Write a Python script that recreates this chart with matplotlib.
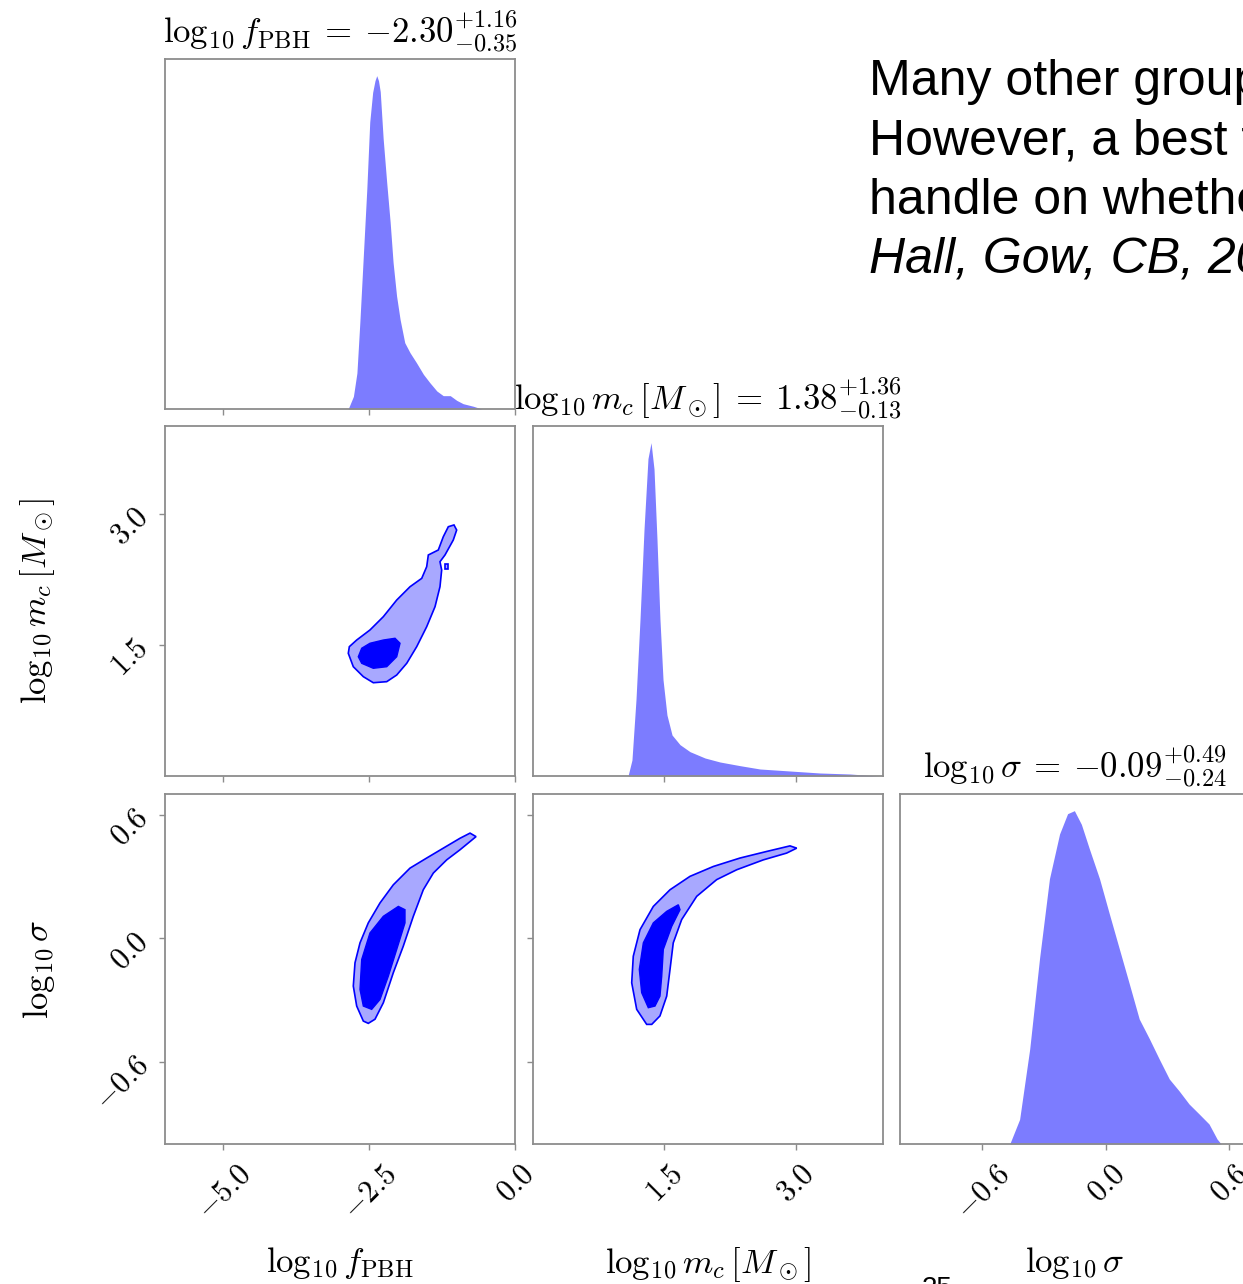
import matplotlib

matplotlib.use("Agg")

import matplotlib.pyplot as plt
from matplotlib.ticker import FixedFormatter, FixedLocator

plt.rcParams["mathtext.fontset"] = "cm"

# ---------------------------------------------------------------------------
# Marginal posteriors (bin position, height relative to the tallest bin)
# ---------------------------------------------------------------------------
fpbh_x = [-2.86, -2.77, -2.71, -2.66, -2.60, -2.54, -2.49, -2.44, -2.40, -2.37,
          -2.34, -2.31, -2.26, -2.20, -2.14, -2.09, -2.03, -1.97, -1.89, -1.80,
          -1.69, -1.57, -1.46, -1.34, -1.23, -1.11, -1.00, -0.89, -0.71, -0.57]
fpbh_h = [0.0, 0.038, 0.108, 0.259, 0.460, 0.661, 0.861, 0.950, 0.985, 1.0,
          0.985, 0.952, 0.811, 0.681, 0.560, 0.440, 0.339, 0.269, 0.199, 0.169,
          0.139, 0.104, 0.079, 0.054, 0.040, 0.040, 0.026, 0.016, 0.008, 0.0]

mc_x = [1.086, 1.131, 1.177, 1.223, 1.269, 1.314, 1.349, 1.383, 1.417, 1.451,
        1.486, 1.531, 1.589, 1.680, 1.794, 1.966, 2.137, 2.366, 2.594, 2.937,
        3.280, 3.623, 3.943]
mc_h = [0.0, 0.048, 0.229, 0.470, 0.741, 0.952, 1.0, 0.921, 0.710, 0.470,
        0.289, 0.183, 0.123, 0.094, 0.073, 0.054, 0.042, 0.031, 0.021, 0.015,
        0.009, 0.006, 0.0]

sig_x = [-0.467, -0.419, -0.370, -0.322, -0.274, -0.225, -0.186, -0.153, -0.119,
         -0.080, -0.031, 0.017, 0.065, 0.114, 0.162, 0.211, 0.259, 0.308, 0.356,
         0.404, 0.453, 0.501, 0.540, 0.560]
sig_h = [0.0, 0.074, 0.285, 0.558, 0.796, 0.930, 0.991, 1.0, 0.959, 0.885,
         0.796, 0.690, 0.586, 0.480, 0.375, 0.316, 0.255, 0.195, 0.159, 0.120,
         0.090, 0.060, 0.015, 0.0]

# ---------------------------------------------------------------------------
# 2-D credible regions: outer and inner outlines (x, y) in parameter units
# ---------------------------------------------------------------------------
fpbh_mc_outer = [(-2.858, 1.402), (-2.772, 1.249), (-2.600, 1.135), (-2.429, 1.066),
                 (-2.199, 1.078), (-2.028, 1.154), (-1.856, 1.288), (-1.685, 1.478),
                 (-1.514, 1.706), (-1.371, 1.935), (-1.286, 2.163), (-1.257, 2.354),
                 (-1.286, 2.449), (-1.200, 2.526), (-1.058, 2.697), (-1.000, 2.811),
                 (-1.046, 2.869), (-1.143, 2.849), (-1.229, 2.735), (-1.315, 2.583),
                 (-1.486, 2.526), (-1.514, 2.392), (-1.599, 2.259), (-1.800, 2.163),
                 (-2.028, 2.011), (-2.257, 1.821), (-2.486, 1.669), (-2.714, 1.554),
                 (-2.840, 1.478)]
fpbh_mc_inner = [(-2.686, 1.363), (-2.628, 1.288), (-2.429, 1.231), (-2.199, 1.249),
                 (-2.028, 1.363), (-1.971, 1.517), (-2.057, 1.574), (-2.257, 1.554),
                 (-2.486, 1.517), (-2.628, 1.460)]
fpbh_mc_island = [(-1.195, 2.37), (-1.150, 2.37), (-1.150, 2.42), (-1.195, 2.42)]

fpbh_sig_outer = [(-2.600, -0.403), (-2.714, -0.330), (-2.772, -0.233), (-2.743, -0.120),
                  (-2.657, -0.023), (-2.515, 0.074), (-2.314, 0.171), (-2.086, 0.259),
                  (-1.800, 0.340), (-1.514, 0.389), (-1.229, 0.437), (-0.943, 0.485),
                  (-0.771, 0.510), (-0.668, 0.493), (-0.771, 0.469), (-0.943, 0.429),
                  (-1.171, 0.380), (-1.400, 0.316), (-1.572, 0.235), (-1.743, 0.106),
                  (-1.915, -0.039), (-2.086, -0.168), (-2.257, -0.314), (-2.400, -0.394),
                  (-2.515, -0.414)]
fpbh_sig_inner = [(-2.600, -0.330), (-2.657, -0.249), (-2.628, -0.104), (-2.486, 0.025),
                  (-2.257, 0.106), (-2.000, 0.154), (-1.886, 0.138), (-1.886, 0.074),
                  (-2.028, -0.055), (-2.172, -0.185), (-2.314, -0.298), (-2.457, -0.346)]

mc_sig_outer = [(1.299, -0.419), (1.185, -0.346), (1.128, -0.217), (1.146, -0.088),
                (1.223, 0.041), (1.375, 0.154), (1.566, 0.235), (1.794, 0.300),
                (2.061, 0.348), (2.366, 0.389), (2.671, 0.421), (2.937, 0.448),
                (3.014, 0.437), (2.899, 0.413), (2.632, 0.380), (2.328, 0.332),
                (2.099, 0.284), (1.871, 0.203), (1.699, 0.090), (1.603, -0.023),
                (1.566, -0.152), (1.528, -0.282), (1.451, -0.378), (1.357, -0.419)]
mc_sig_inner = [(1.318, -0.338), (1.242, -0.265), (1.215, -0.152), (1.261, -0.023),
                (1.375, 0.074), (1.528, 0.130), (1.661, 0.162), (1.680, 0.138),
                (1.585, 0.057), (1.489, -0.055), (1.471, -0.185), (1.451, -0.282),
                (1.394, -0.330)]

# Axis ranges, ticks and labels per parameter
ranges = [(-6.0, 0.0), (0.0, 4.0), (-1.0, 0.7)]
ticks = [[-5.0, -2.5, 0.0], [1.5, 3.0], [-0.6, 0.0, 0.6]]
tick_text = [[r"$-5.0$", r"$-2.5$", r"$0.0$"], [r"$1.5$", r"$3.0$"],
             [r"$-0.6$", r"$0.0$", r"$0.6$"]]
labels = [r"$\log_{10} f_{\rm PBH}$", r"$\log_{10} m_c\,[M_\odot]$", r"$\log_{10} \sigma$"]
titles = [r"$\log_{10} f_{\rm PBH}\:=\:{-}2.30^{+1.16}_{-0.35}$",
          r"$\log_{10} m_c\,[M_\odot]\:=\:1.38^{+1.36}_{-0.13}$",
          r"$\log_{10} \sigma\:=\:{-}0.09^{+0.49}_{-0.24}$"]

slide_lines = ["Many other groups", "However, a best fit", "handle on whether"]
slide_ref = "Hall, Gow, CB, 2020"

HIST_COLOR = "#7c7cff"
OUTER_COLOR = "#a8a8ff"
INNER_COLOR = "#0000ff"
SPINE_COLOR = "#8c8c8c"

W, H = 1243, 1284
fig = plt.figure(figsize=(W / 100, H / 100), dpi=100)


def add_panel(x0, y0, size=350):
    return fig.add_axes([x0 / W, 1 - (y0 + size) / H, size / W, size / H])


def style(ax, ix, iy, show_x, show_y):
    for sp in ax.spines.values():
        sp.set_color(SPINE_COLOR)
        sp.set_linewidth(1.3)
    ax.tick_params(direction="out", length=4, width=1, color=SPINE_COLOR,
                   labelsize=22, pad=4)
    ax.tick_params(axis="x", pad=7)
    ax.set_xlim(ranges[ix])
    ax.xaxis.set_major_locator(FixedLocator(ticks[ix]))
    if show_x:
        ax.xaxis.set_major_formatter(FixedFormatter(tick_text[ix]))
        for lab in ax.get_xticklabels():
            lab.set_rotation(45)
        ax.set_xlabel(labels[ix], fontsize=25)
        ax.xaxis.set_label_coords(0.5, -0.288)
        ax.xaxis.label.set_va("top")
    else:
        ax.set_xticklabels([])
    if iy is None:
        ax.set_yticks([])
        return
    ax.set_ylim(ranges[iy])
    ax.yaxis.set_major_locator(FixedLocator(ticks[iy]))
    if show_y:
        ax.yaxis.set_major_formatter(FixedFormatter(tick_text[iy]))
        for lab in ax.get_yticklabels():
            lab.set_rotation(45)
        ax.set_ylabel(labels[iy], fontsize=25)
        ax.yaxis.set_label_coords(-0.31, 0.5)
    else:
        ax.set_yticklabels([])


cols = [165, 533, 900]
rows = [59, 426, 794]

# diagonal: 1-D marginals
for i, (xs, hs) in enumerate([(fpbh_x, fpbh_h), (mc_x, mc_h), (sig_x, sig_h)]):
    ax = add_panel(cols[i], rows[i])
    ax.fill_between(xs, hs, 0, color=HIST_COLOR, lw=0)
    ax.set_ylim(0, 1.05 * max(hs))
    style(ax, i, None, show_x=(i == 2), show_y=False)
    ax.set_title(titles[i], fontsize=25, pad=11)

# lower triangle: 2-D credible regions
pairs = [
    (0, 1, [fpbh_mc_outer, fpbh_mc_island], fpbh_mc_inner),
    (0, 2, [fpbh_sig_outer], fpbh_sig_inner),
    (1, 2, [mc_sig_outer], mc_sig_inner),
]
for ix, iy, outers, inner in pairs:
    ax = add_panel(cols[ix], rows[iy])
    for poly in outers:
        px, py = zip(*poly)
        ax.fill(px, py, facecolor=OUTER_COLOR, edgecolor=INNER_COLOR, lw=1.2)
    px, py = zip(*inner)
    ax.fill(px, py, facecolor=INNER_COLOR, edgecolor=INNER_COLOR, lw=1.0)
    style(ax, ix, iy, show_x=(iy == 2), show_y=(ix == 0))

# slide text beside the corner plot
for k, line in enumerate(slide_lines):
    fig.text(869 / W, 1 - (95 + 59.3 * k) / H, line, fontsize=36,
             family="Liberation Sans", va="baseline", ha="left")
fig.text(869 / W, 1 - (95 + 59.3 * 3) / H, slide_ref, fontsize=36,
         family="Liberation Sans", style="italic", va="baseline", ha="left")
fig.text(922 / W, 1 - 1276 / H, "25", fontsize=20, family="Liberation Sans",
         va="top", ha="left")

fig.savefig("out.png", dpi=100)
